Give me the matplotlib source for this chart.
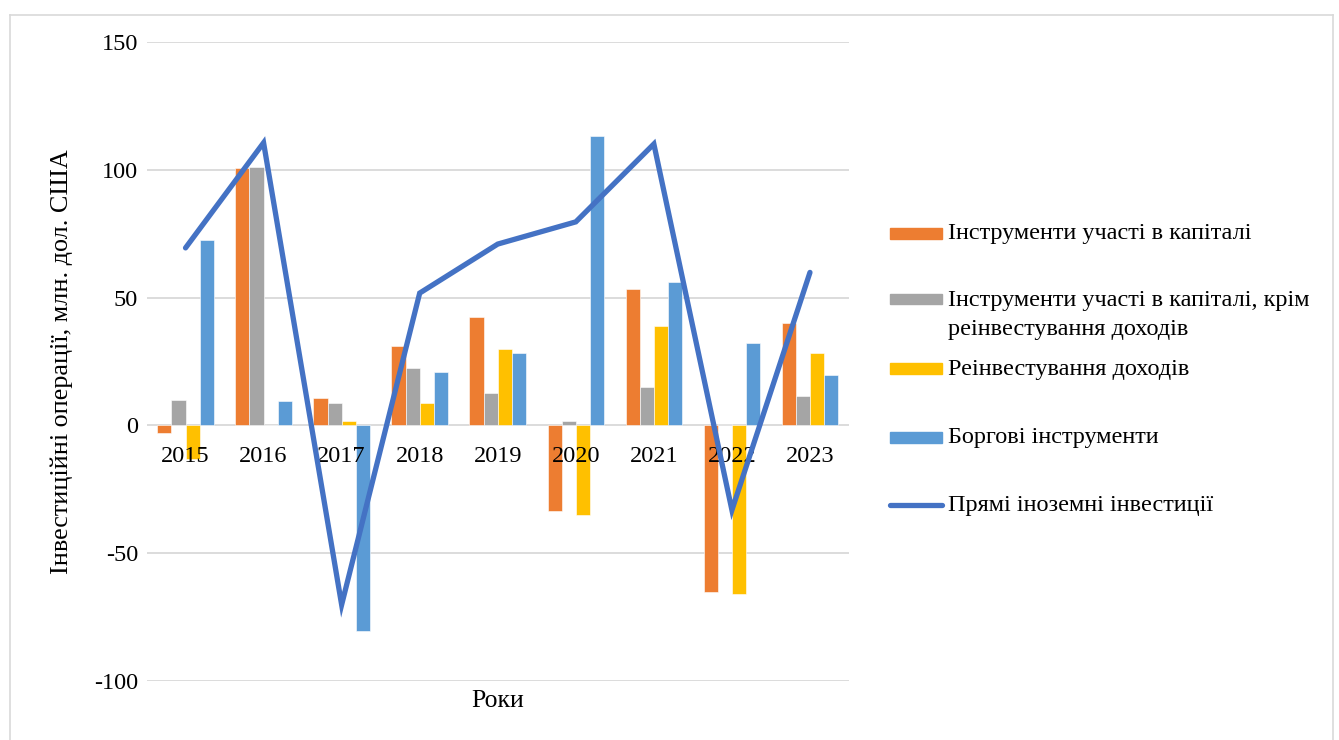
import matplotlib
matplotlib.use("Agg")
import matplotlib.pyplot as plt
import numpy as np
from matplotlib.patches import Rectangle
from matplotlib.lines import Line2D

plt.rcParams['font.family'] = ['Liberation Serif', 'DejaVu Serif']
plt.rcParams['axes.unicode_minus'] = False

years = ['2015', '2016', '2017', '2018', '2019', '2020', '2021', '2022', '2023']

equity = [-3.0, 100.8, 10.7, 31.0, 42.5, -33.4, 53.5, -65.4, 40.0]
equity_ex_reinv = [10.0, 101.0, 8.9, 22.3, 12.8, 1.6, 14.9, 0.5, 11.5]
reinvested = [-13.0, 0.3, 1.6, 8.6, 29.8, -35.0, 38.9, -65.9, 28.5]
debt = [72.7, 9.7, -80.7, 20.9, 28.2, 113.2, 56.3, 32.4, 19.9]
fdi_total = [69.5, 110.7, -70.3, 51.8, 71.0, 79.7, 110.2, -33.2, 59.9]

series_labels = [
    ['Інструменти участі в капіталі'],
    ['Інструменти участі в капіталі, крім', 'реінвестування доходів'],
    ['Реінвестування доходів'],
    ['Боргові інструменти'],
]
line_label = 'Прямі іноземні інвестиції'
bar_colors = ['#ED7D31', '#A5A5A5', '#FFC000', '#5B9BD5']
line_color = '#4472C4'

W, H = 1339, 740
fig = plt.figure(figsize=(W / 100, H / 100), dpi=100)
ax = fig.add_axes([146.5 / W, 1 - 680.6 / H, (849 - 146.5) / W, (680.6 - 42.4) / H])

x = np.arange(len(years))
bw = 0.181
for k, (vals, col) in enumerate(zip([equity, equity_ex_reinv, reinvested, debt], bar_colors)):
    ax.bar(x + (k - 1.5) * bw, vals, width=bw, color=col, edgecolor='white',
           linewidth=0.4, zorder=2)

ax.plot(x, fdi_total, color=line_color, linewidth=3.8, solid_capstyle='round',
        solid_joinstyle='miter', zorder=3)

ax.set_xlim(-0.5, len(years) - 0.5)
ax.set_ylim(-100, 150)
ax.set_yticks([-100, -50, 0, 50, 100, 150])
ax.yaxis.grid(True, color='#D9D9D9', linewidth=1.3)
ax.yaxis.set_zorder(0.5)
ax.xaxis.set_zorder(2.5)
for s in ax.spines.values():
    s.set_visible(False)
ax.spines['bottom'].set_position(('data', 0))
ax.set_xticks(x)
ax.set_xticklabels(years)
ax.tick_params(axis='x', length=0, pad=15, labelsize=17.5)
ax.tick_params(axis='y', length=0, pad=6, labelsize=17.5)

fig.text(497.8 / W, 1 - 701 / H, 'Роки', ha='center', va='center', fontsize=18.5)
fig.text(62 / W, 1 - 362 / H, 'Інвестиційні операції, млн. дол. США',
         ha='center', va='center', rotation=90, fontsize=18.8)

# legend drawn in figure pixel coordinates
leg_y = [233, 299, 368, 437]
for yy, col, lines in zip(leg_y, bar_colors, series_labels):
    fig.add_artist(Rectangle((890 / W, 1 - (yy + 5.5) / H), 52 / W, 11 / H,
                             transform=fig.transFigure, color=col))
    for j, txt in enumerate(lines):
        fig.text(948 / W, 1 - (yy + 1 + 29 * j) / H, txt, ha='left', va='center',
                 fontsize=17.5)
fig.add_artist(Line2D([890 / W, 942 / W], [1 - 505 / H, 1 - 505 / H],
                      transform=fig.transFigure, color=line_color, linewidth=3.8,
                      solid_capstyle='round'))
fig.text(948 / W, 1 - 505 / H, line_label, ha='left', va='center', fontsize=17.5)

# chart frame
frame_col = '#D9D9D9'
fig.add_artist(Line2D([9.5 / W, 1333 / W], [1 - 14.5 / H, 1 - 14.5 / H],
                      transform=fig.transFigure, color=frame_col, linewidth=1.2))
fig.add_artist(Line2D([9.5 / W, 9.5 / W], [0, 1 - 14.5 / H],
                      transform=fig.transFigure, color=frame_col, linewidth=1.2))
fig.add_artist(Line2D([1333 / W, 1333 / W], [0, 1 - 14.5 / H],
                      transform=fig.transFigure, color=frame_col, linewidth=1.2))

fig.savefig('out.png', dpi=100, facecolor='white')
